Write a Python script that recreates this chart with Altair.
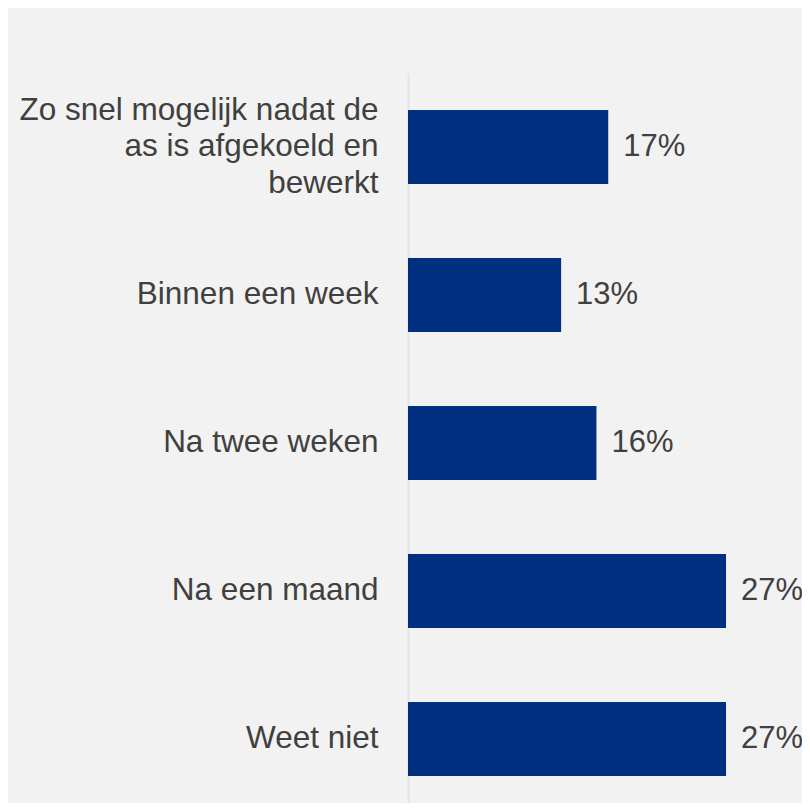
import altair as alt
import pandas as pd

categories = [
    "Zo snel mogelijk nadat de as is afgekoeld en bewerkt",
    "Binnen een week",
    "Na twee weken",
    "Na een maand",
    "Weet niet",
]
values = [17, 13, 16, 27, 27]
first_label_lines = ["Zo snel mogelijk nadat de", "as is afgekoeld en", "bewerkt"]

df = pd.DataFrame({"cat": categories, "val": values})

FONT = "Liberation Sans"
TEXT_COLOR = "#404040"
BAR_COLOR = "#00307f"
LINE_H = 36.5

lines_expr = "[" + ", ".join("'" + s + "'" for s in first_label_lines) + "]"
first_test = f"datum.value == '{categories[0]}'"
label_expr = f"{first_test} ? {lines_expr} : datum.label"

y_enc = alt.Y(
    "cat:N",
    sort=categories,
    scale=alt.Scale(paddingInner=0.5, paddingOuter=0.25, range=[0, 740]),
    axis=alt.Axis(
        title=None,
        ticks=False,
        grid=False,
        domain=True,
        domainColor="#e3e3e3",
        domainWidth=2,
        labelFont=FONT,
        labelFontSize=31.5,
        labelColor=TEXT_COLOR,
        labelPadding=30,
        labelLimit=600,
        labelLineHeight=LINE_H,
        labelExpr=label_expr,
        labelOffset={"condition": {"test": first_test, "value": -LINE_H}, "value": 0},
    ),
)
x_enc = alt.X("val:Q", scale=alt.Scale(domain=[0, 33.45]), axis=None)

base = alt.Chart(df).encode(y=y_enc, x=x_enc)

bars = base.mark_bar(color=BAR_COLOR)
texts = base.transform_calculate(lbl="datum.val + '%'").mark_text(
    align="left", baseline="middle", dx=15, font=FONT, fontSize=31, color=TEXT_COLOR
).encode(text="lbl:N")

chart = (
    alt.layer(bars, texts)
    .properties(
        width=394,
        height=730,
        padding={"left": 400, "top": 65, "right": 0, "bottom": 0},
        autosize=alt.AutoSizeParams(type="none"),
        background="#f2f2f2",
    )
    .configure_view(stroke=None)
)

chart.save("out.html", embed_options={"renderer": "svg", "actions": False})
